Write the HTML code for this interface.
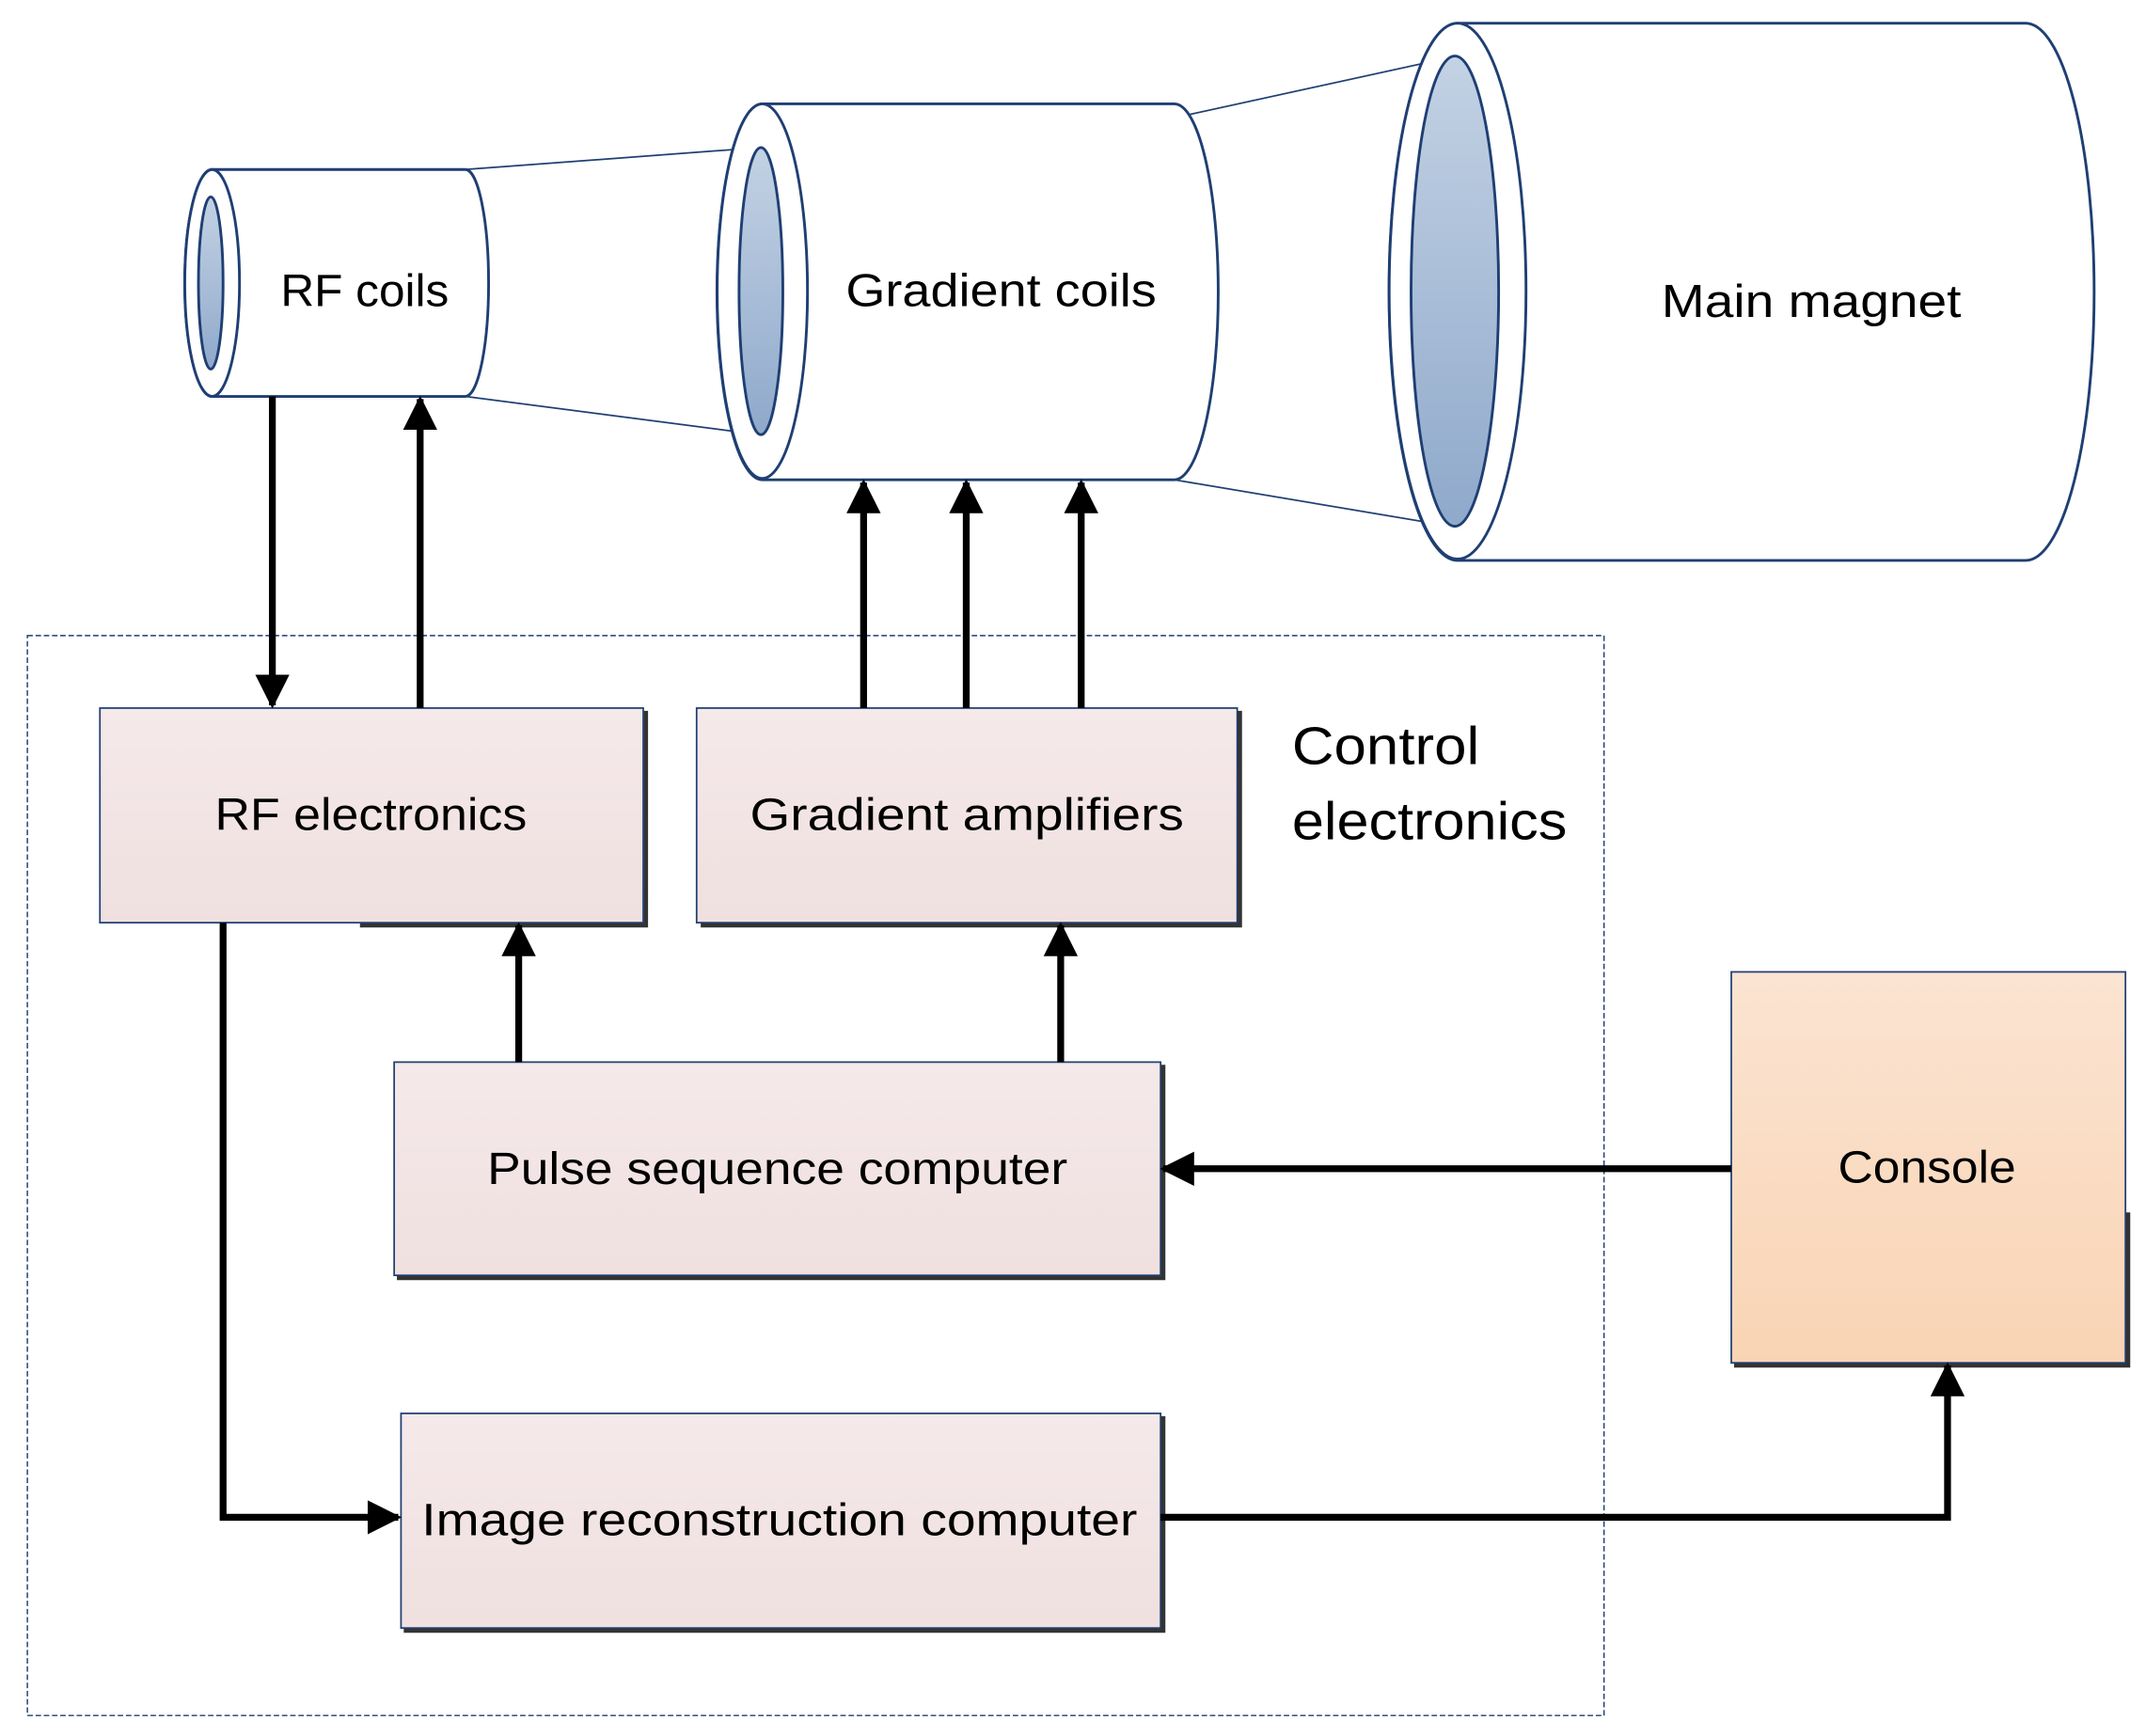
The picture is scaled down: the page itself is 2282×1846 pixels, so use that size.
<!DOCTYPE html>
<html><head><meta charset="utf-8"><style>
html,body{margin:0;padding:0;background:#fff;}
svg{display:block;}
text{font-family:"Liberation Sans","DejaVu Sans",sans-serif;fill:#000;}
</style></head><body>
<svg width="2282" height="1846" viewBox="0 0 1568 1270" preserveAspectRatio="none" xmlns="http://www.w3.org/2000/svg">
<defs>
<linearGradient id="bore" x1="0" y1="0" x2="0" y2="1">
<stop offset="0" stop-color="#c3d2e4"/><stop offset="1" stop-color="#8fa9cb"/></linearGradient>
<linearGradient id="box" x1="0" y1="0" x2="0" y2="1">
<stop offset="0" stop-color="#f5e9e9"/><stop offset="1" stop-color="#f0e0e0"/></linearGradient>
<linearGradient id="cons" x1="0" y1="0" x2="0" y2="1">
<stop offset="0" stop-color="#fbe4d2"/><stop offset="1" stop-color="#f9d4b4"/></linearGradient>
<marker id="ah" viewBox="0 0 10 10" refX="9" refY="5" markerWidth="5" markerHeight="5" orient="auto">
<path d="M0,0 L10,5 L0,10 z" fill="#000"/></marker>
</defs>
<g stroke="#1f3f73" stroke-width="2" fill="#fff">
<line x1="340" y1="124" x2="555" y2="108" stroke-width="1.2"/>
<line x1="340" y1="290" x2="555" y2="318" stroke-width="1.2"/>
<line x1="868" y1="84" x2="1060" y2="42" stroke-width="1.2"/>
<line x1="858" y1="351" x2="1060" y2="385" stroke-width="1.2"/>
<path d="M1065,17 L1480,17 A50,196 0 0 1 1480,410 L1065,410 A50,196 0 0 1 1065,17 Z"/>
<ellipse cx="1065" cy="213" rx="50" ry="196"/>
<ellipse cx="1063" cy="213" rx="32" ry="172" fill="url(#bore)"/>
<path d="M557,76 L858,76 A32,137 0 0 1 858,351 L557,351 A33,137 0 0 1 557,76 Z"/>
<ellipse cx="557" cy="213" rx="33" ry="137"/>
<ellipse cx="556" cy="213" rx="16" ry="105" fill="url(#bore)"/>
<path d="M155,124 L340,124 A17,83 0 0 1 340,290 L155,290 A20,83 0 0 1 155,124 Z"/>
<ellipse cx="155" cy="207" rx="20" ry="83"/>
<ellipse cx="154" cy="207" rx="9" ry="63" fill="url(#bore)"/>
</g>
<text x="205" y="224" font-size="33" textLength="123" lengthAdjust="spacingAndGlyphs">RF coils</text>
<text x="618" y="224" font-size="34" textLength="227" lengthAdjust="spacingAndGlyphs">Gradient coils</text>
<text x="1214" y="232" font-size="34" textLength="219" lengthAdjust="spacingAndGlyphs">Main magnet</text>
<rect x="20" y="465" width="1152" height="790" fill="none" stroke="#1f3f73" stroke-width="1" stroke-dasharray="4,2"/>
<text x="944" y="559" font-size="39" textLength="137" lengthAdjust="spacingAndGlyphs">Control</text>
<text x="944" y="614" font-size="39" textLength="201" lengthAdjust="spacingAndGlyphs">electronics</text>
<g stroke="#1f3f73" stroke-width="1.2" fill="url(#box)">
<rect x="73" y="518" width="397" height="157"/>
<rect x="509" y="518" width="395" height="157"/>
<rect x="288" y="777" width="560" height="156"/>
<rect x="293" y="1034" width="555" height="157"/>
<rect x="1265" y="711" width="288" height="286" fill="url(#cons)"/>
</g>
<g stroke="#333" stroke-width="3" fill="none">
<path d="M472,520 V677 H263"/><path d="M906,520 V677 H512"/>
<path d="M850,779 V935 H290"/><path d="M850,1036 V1193 H295"/>
<path d="M1555,887 V999 H1267"/>
</g>
<text x="157" y="607" font-size="33" textLength="228" lengthAdjust="spacingAndGlyphs">RF electronics</text>
<text x="548" y="607" font-size="33" textLength="317" lengthAdjust="spacingAndGlyphs">Gradient amplifiers</text>
<text x="356" y="866" font-size="33" textLength="424" lengthAdjust="spacingAndGlyphs">Pulse sequence computer</text>
<text x="308" y="1123" font-size="33" textLength="523" lengthAdjust="spacingAndGlyphs">Image reconstruction computer</text>
<text x="1343" y="865" font-size="33" textLength="130" lengthAdjust="spacingAndGlyphs">Console</text>
<g stroke="#000" stroke-width="5" fill="none" marker-end="url(#ah)">
<line x1="199" y1="290" x2="199" y2="516"/>
<line x1="307" y1="518" x2="307" y2="292"/>
<line x1="631" y1="518" x2="631" y2="353"/>
<line x1="706" y1="518" x2="706" y2="353"/>
<line x1="790" y1="518" x2="790" y2="353"/>
<line x1="379" y1="777" x2="379" y2="677"/>
<line x1="775" y1="777" x2="775" y2="677"/>
<line x1="1265" y1="855" x2="850" y2="855"/>
<path d="M163,675 V1110 H291"/>
<path d="M848,1110 H1423 V999"/>
</g>
</svg>
</body></html>
